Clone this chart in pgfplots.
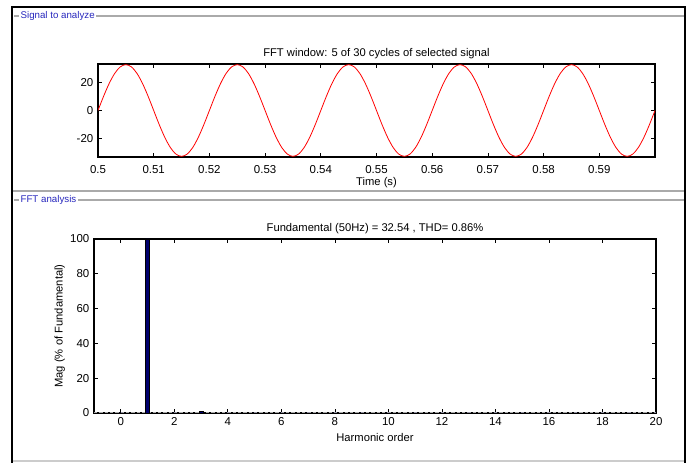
\documentclass[border=0pt]{standalone}
\usepackage{pgfplots}
\pgfplotsset{compat=1.18}
\usepackage{fontspec}
\setmainfont{Liberation Sans}
\definecolor{framegray}{RGB}{170,170,170}
\definecolor{frameblue}{RGB}{40,40,190}
\definecolor{navybar}{RGB}{0,0,110}
\pgfplotsset{
  mlab/.style={
    scale only axis,
    axis line style={line width=0.9pt},
    tick align=inside,
    major tick length=3pt,
    tick style={black, line width=0.5pt},
    /pgf/number format/assume math mode=true,
    tick label style={font=\fontsize{8.6}{10}\selectfont},
    label style={font=\fontsize{8.4}{10}\selectfont},
    title style={font=\fontsize{8.4}{10}\selectfont, yshift=-5.5pt},
  }
}
\begin{document}
\begin{tikzpicture}[x=0.75pt,y=-0.75pt]
\path[use as bounding box, fill=white] (0,0) rectangle (693,463);
% frames
\draw[framegray, line width=0.8pt] (14,16) -- (685,16);
\draw[framegray, line width=0.8pt] (13,191) -- (685,191);
\draw[framegray, line width=0.8pt] (14,200) -- (685,200);
\draw[framegray!60, line width=1.5pt] (13,461) -- (685,461);
\draw[line width=1.5pt] (12,463) -- (12,7) -- (685,7) -- (685,463);
\node[fill=white, inner xsep=1pt, inner ysep=0pt, anchor=west, text=frameblue, font=\fontsize{7.3}{8}\selectfont] at (19,16) {Signal to analyze};
\node[fill=white, inner xsep=1pt, inner ysep=0pt, anchor=west, text=frameblue, font=\fontsize{7.3}{8}\selectfont] at (19,200) {FFT analysis};
\coordinate (T) at (98,64);
\coordinate (B) at (94,239);
\begin{axis}[mlab, at={(T)}, anchor=north west,
  width=417.75pt, height=69.75pt,
  xmin=0.5, xmax=0.6, ymin=-33, ymax=33,
  xtick={0.5,0.51,0.52,0.53,0.54,0.55,0.56,0.57,0.58,0.59},
  xticklabels={0.5,0.51,0.52,0.53,0.54,0.55,0.56,0.57,0.58,0.59},
  xticklabel style={yshift=-2.5pt},
  ytick={-20,0,20},
  title={FFT window: 5 of 30 cycles of selected signal},
  xlabel={Time (s)},
  xlabel style={yshift=3.5pt},
]
\addplot[red, line width=0.6pt, smooth] coordinates {
(0.500,0) (0.501,10.06) (0.502,19.13) (0.503,26.33) (0.504,30.95) (0.505,32.54) (0.506,30.95) (0.507,26.33) (0.508,19.13) (0.509,10.06)
(0.510,0) (0.511,-10.06) (0.512,-19.13) (0.513,-26.33) (0.514,-30.95) (0.515,-32.54) (0.516,-30.95) (0.517,-26.33) (0.518,-19.13) (0.519,-10.06)
(0.520,0) (0.521,10.06) (0.522,19.13) (0.523,26.33) (0.524,30.95) (0.525,32.54) (0.526,30.95) (0.527,26.33) (0.528,19.13) (0.529,10.06)
(0.530,0) (0.531,-10.06) (0.532,-19.13) (0.533,-26.33) (0.534,-30.95) (0.535,-32.54) (0.536,-30.95) (0.537,-26.33) (0.538,-19.13) (0.539,-10.06)
(0.540,0) (0.541,10.06) (0.542,19.13) (0.543,26.33) (0.544,30.95) (0.545,32.54) (0.546,30.95) (0.547,26.33) (0.548,19.13) (0.549,10.06)
(0.550,0) (0.551,-10.06) (0.552,-19.13) (0.553,-26.33) (0.554,-30.95) (0.555,-32.54) (0.556,-30.95) (0.557,-26.33) (0.558,-19.13) (0.559,-10.06)
(0.560,0) (0.561,10.06) (0.562,19.13) (0.563,26.33) (0.564,30.95) (0.565,32.54) (0.566,30.95) (0.567,26.33) (0.568,19.13) (0.569,10.06)
(0.570,0) (0.571,-10.06) (0.572,-19.13) (0.573,-26.33) (0.574,-30.95) (0.575,-32.54) (0.576,-30.95) (0.577,-26.33) (0.578,-19.13) (0.579,-10.06)
(0.580,0) (0.581,10.06) (0.582,19.13) (0.583,26.33) (0.584,30.95) (0.585,32.54) (0.586,30.95) (0.587,26.33) (0.588,19.13) (0.589,10.06)
(0.590,0) (0.591,-10.06) (0.592,-19.13) (0.593,-26.33) (0.594,-30.95) (0.595,-32.54) (0.596,-30.95) (0.597,-26.33) (0.598,-19.13) (0.599,-10.06)
(0.600,0)
};
\end{axis}
\begin{axis}[mlab, at={(B)}, anchor=north west,
  width=421.5pt, height=130.5pt,
  xmin=-1, xmax=20, ymin=0, ymax=100,
  xtick={0,2,...,20}, ytick={0,20,...,100},
  title={Fundamental (50Hz) = 32.54 , THD= 0.86\%},
  xlabel={Harmonic order},
  ylabel={Mag (\% of Fundamental)},
  xlabel style={yshift=1pt},
  ylabel style={yshift=-3pt},
]
\addplot[framegray, dashed, line width=0.6pt, dash pattern=on 2.5pt off 1.5pt] coordinates {(-1,0.6) (20,0.6)};
\addplot[ybar, bar width=0.15, fill=navybar, draw=black, line width=0.4pt] coordinates {
(0,0.05) (1,100) (2,0.05) (3,0.82) (4,0.03) (5,0.12) (6,0.02) (7,0.1) (8,0.02) (9,0.08) (10,0.02)
(11,0.06) (12,0.02) (13,0.05) (14,0.02) (15,0.04) (16,0.02) (17,0.03) (18,0.02) (19,0.03) (20,0.02)
};
\end{axis}
\end{tikzpicture}
\end{document}
